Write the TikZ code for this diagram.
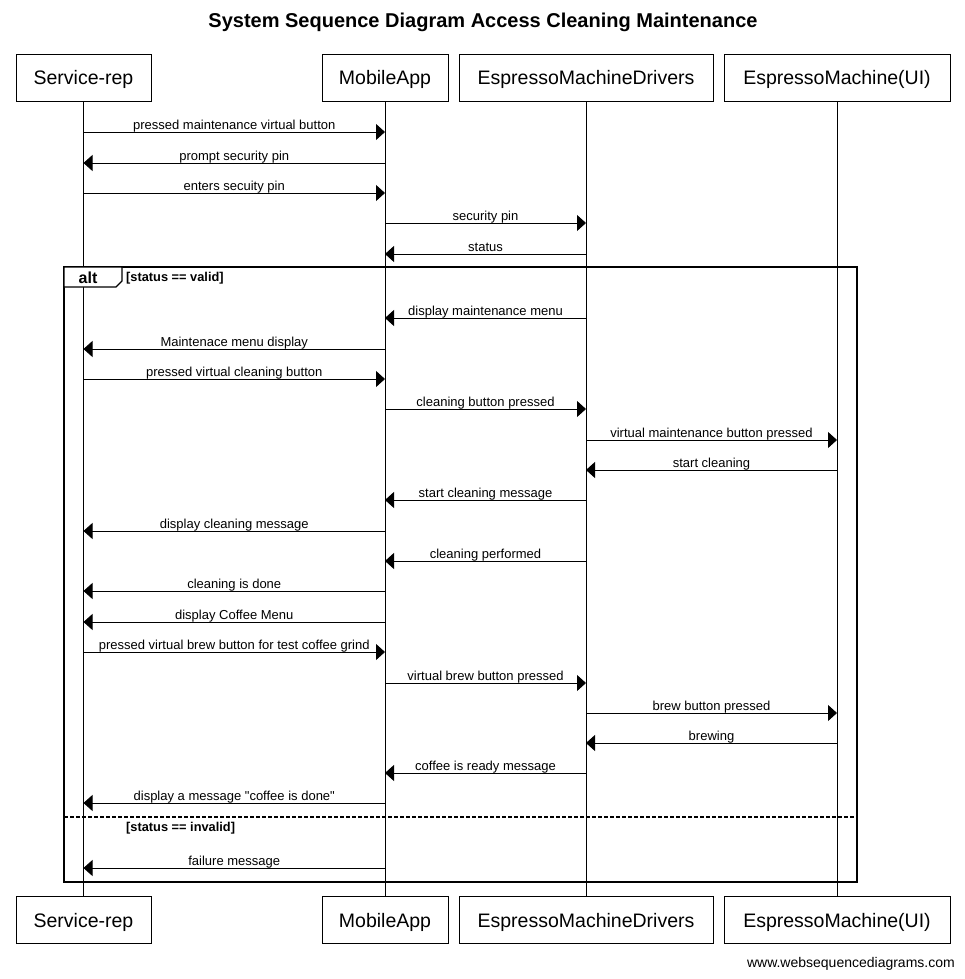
\documentclass[tikz,border=0pt]{standalone}
\usepackage{fontspec}
\setmainfont{Liberation Sans}[Ligatures=TeXOff]
\usetikzlibrary{arrows.meta}
\tikzset{
  actor/.style={draw, line width=0.8pt, minimum height=47pt, inner sep=0pt,
    text height=15pt, text depth=0pt, font=\fontsize{19.5}{22}\selectfont},
  msg/.style={-{Triangle[length=9pt,width=16pt]}, line width=0.8pt},
  lbl/.style={font=\fontsize{13}{15}\selectfont, inner sep=0pt, anchor=base},
  guard/.style={font=\bfseries\fontsize{12.8}{14}\selectfont, inner sep=0pt, anchor=base west},
}
\begin{document}
\begin{tikzpicture}[x=1pt, y=-1pt]
  \useasboundingbox (0,0) rectangle (965,979);
  \node[font=\bfseries\fontsize{20}{23}\selectfont] (title) at (483,22)
    {System Sequence Diagram Access Cleaning Maintenance};

  % participants
  \node[actor, minimum width=135pt] (srT) at (83.5,77.5) {Service-rep};
  \node[actor, minimum width=126pt] (maT) at (385,77.5) {MobileApp};
  \node[actor, minimum width=254pt] (drT) at (586,77.5) {EspressoMachineDrivers};
  \node[actor, minimum width=226pt] (uiT) at (837,77.5) {EspressoMachine(UI)};
  \node[actor, minimum width=135pt] (srB) at (83.5,919.5) {Service-rep};
  \node[actor, minimum width=126pt] (maB) at (385,919.5) {MobileApp};
  \node[actor, minimum width=254pt] (drB) at (586,919.5) {EspressoMachineDrivers};
  \node[actor, minimum width=226pt] (uiB) at (837,919.5) {EspressoMachine(UI)};

  % lifelines
  \foreach \p in {sr,ma,dr,ui}
    \draw[line width=0.8pt] (\p T.south) -- (\p B.north);

  % alt frame
  \coordinate (fTL) at (64,267);
  \coordinate (fBR) at (857,882);
  \draw[line width=1.6pt] (fTL) rectangle (fBR);
  \draw[line width=1.2pt, fill=white] (fTL) -- (122,267) -- (122,281) -- (116,287) -- (64,287) -- cycle;
  \node[font=\bfseries\fontsize{16}{18}\selectfont] (alt) at (88,277.5) {alt};
  \node[guard] (valid) at (126,281) {[status == valid]};
  \draw[line width=1.3pt, dash pattern=on 4pt off 2pt] (64,817) -- (857,817);
  \node[guard] (invalid) at (126,831) {[status == invalid]};

  % messages
  \foreach \y/\a/\b/\t [count=\i] in {
      132/sr/ma/pressed maintenance virtual button,
      163/ma/sr/prompt security pin,
      193/sr/ma/enters secuity pin,
      223/ma/dr/security pin,
      254/dr/ma/status,
      318/dr/ma/display maintenance menu,
      349/ma/sr/Maintenace menu display,
      379/sr/ma/pressed virtual cleaning button,
      409/ma/dr/cleaning button pressed,
      440/dr/ui/virtual maintenance button pressed,
      470/ui/dr/start cleaning,
      500/dr/ma/start cleaning message,
      531/ma/sr/display cleaning message,
      561/dr/ma/cleaning performed,
      591/ma/sr/cleaning is done,
      622/ma/sr/display Coffee Menu,
      652/sr/ma/pressed virtual brew button for test coffee grind,
      683/ma/dr/virtual brew button pressed,
      713/dr/ui/brew button pressed,
      743/ui/dr/brewing,
      773/dr/ma/coffee is ready message,
      803/ma/sr/display a message "coffee is done",
      868/ma/sr/failure message} {
    \coordinate (m\i a) at (\a T.south |- 0,\y);
    \coordinate (m\i b) at (\b T.south |- 0,\y);
    \draw[msg] (m\i a) -- (m\i b)
      node[lbl, midway, yshift=3pt] (l\i) {\t};
  }

  \node[font=\fontsize{14}{16}\selectfont, anchor=base east, inner sep=0pt] (web)
    at (955,967) {www.websequencediagrams.com};
\end{tikzpicture}
\end{document}
